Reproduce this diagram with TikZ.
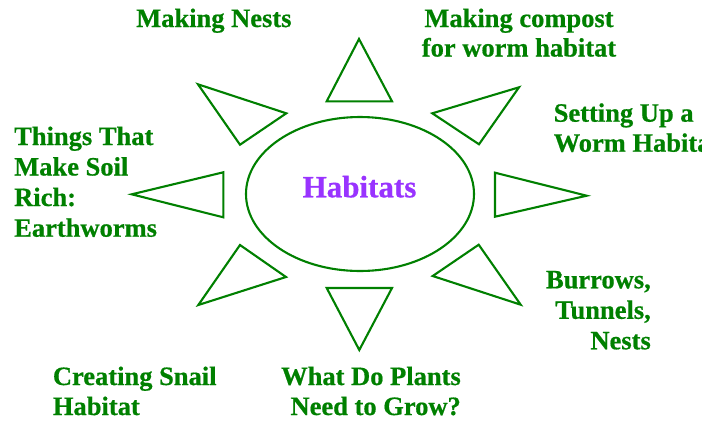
\documentclass[tikz,border=0pt]{standalone}
\usepackage{fontspec}
\setmainfont{Liberation Serif}[BoldFeatures={FakeBold=0.6}]
\definecolor{leafgreen}{RGB}{0,128,0}
\definecolor{habpurple}{RGB}{153,51,255}
\begin{document}
\begin{tikzpicture}[x=1pt,y=-1pt,
  ray/.style={draw=leafgreen,line width=2.1pt},
  lbl/.style={text=leafgreen,font=\fontsize{26.5}{31}\selectfont\bfseries,inner sep=0pt}]
\clip (0,0) rectangle (702,424);
\fill[white] (0,0) rectangle (702,424);
% sun body
\draw[ray] (360,194) ellipse[x radius=114,y radius=77];
\node[text=habpurple,font=\fontsize{31}{35}\selectfont\bfseries,inner sep=0pt,anchor=base] (hab) at (359.5,197.3) {Habitats};
% rays
\draw[ray] (359,39) -- (392,101.3) -- (326.7,101.3) -- cycle;
\draw[ray] (198,84.3) -- (286.3,113.3) -- (240,144.7) -- cycle;
\draw[ray] (519,87.3) -- (479,144.3) -- (432.3,113.3) -- cycle;
\draw[ray] (495,172.7) -- (586.7,195.7) -- (495,216.7) -- cycle;
\draw[ray] (131.7,194.3) -- (223.3,172.3) -- (223.3,217.3) -- cycle;
\draw[ray] (240,245) -- (286,277) -- (198.3,305) -- cycle;
\draw[ray] (326.7,288) -- (392,288) -- (359.3,350) -- cycle;
\draw[ray] (478.7,244.7) -- (520.7,304.7) -- (432.7,276) -- cycle;
% labels
\node[lbl,anchor=base west] (n1) at (136,27) {Making Nests};
\node[lbl,anchor=base] (c1) at (519,27) {Making compost};
\node[lbl,anchor=base] (c2) at (519,56.5) {for worm habitat};
\node[lbl,anchor=base west] (s1) at (553.5,121.7) {Setting Up a};
\node[lbl,anchor=base west] (s2) at (553.5,151.7) {Worm Habitat};
\node[lbl,anchor=base west] (t1) at (14,145) {Things That};
\node[lbl,anchor=base west] (t2) at (14,175.5) {Make Soil};
\node[lbl,anchor=base west] (t3) at (14,206) {Rich:};
\node[lbl,anchor=base west] (t4) at (14,236.7) {Earthworms};
\node[lbl,anchor=base east] (b1) at (651,288.3) {Burrows,};
\node[lbl,anchor=base east] (b2) at (651,318.8) {Tunnels,};
\node[lbl,anchor=base east] (b3) at (651,349.3) {Nests};
\node[lbl,anchor=base west] (k1) at (52.7,385) {Creating Snail};
\node[lbl,anchor=base west] (k2) at (52.7,415) {Habitat};
\node[lbl,anchor=base east] (w1) at (461,385) {What Do Plants};
\node[lbl,anchor=base east] (w2) at (461,415) {Need to Grow?};
\end{tikzpicture}
\end{document}
